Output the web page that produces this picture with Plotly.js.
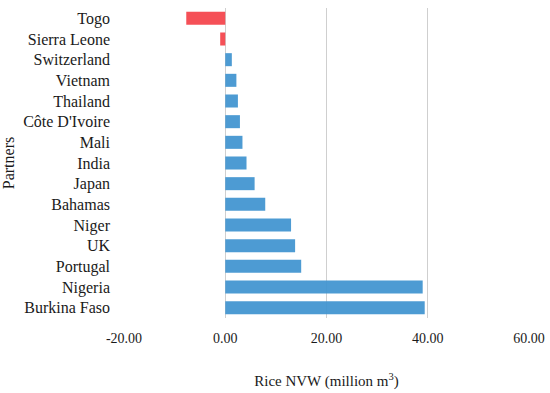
<!DOCTYPE html>
<html>
<head>
<meta charset="utf-8">
<script src="https://cdn.plot.ly/plotly-3.0.1.min.js"></script>
<style>html,body{margin:0;padding:0;background:#fff;}#chart{width:550px;height:393px;}</style>
</head>
<body>
<div id="chart"></div>
<script>
const partners = ["Togo","Sierra Leone","Switzerland","Vietnam","Thailand","Côte D'Ivoire","Mali","India","Japan","Bahamas","Niger","UK","Portugal","Nigeria","Burkina Faso"];
const nvw = [-7.7,-1.0,1.3,2.2,2.5,2.9,3.4,4.2,5.8,7.9,13.0,13.8,15.0,39.0,39.4];
const xTicks = [-20,0,20,40,60];
const xTickLabels = ["-20.00","0.00","20.00","40.00","60.00"];

const colors = nvw.map(v => v < 0 ? "#f4434a" : "#3f93d0");

const trace = {
  type: "bar",
  orientation: "h",
  x: nvw,
  y: partners,
  marker: {color: colors, opacity: 0.93},
  width: 0.63,
  hoverinfo: "none"
};

const fam = "Liberation Serif, DejaVu Serif, serif";
const txt = "#1a1a1a";

const layout = {
  width: 550, height: 393,
  margin: {l: 124, r: 21, t: 8, b: 75},
  paper_bgcolor: "#fff", plot_bgcolor: "#fff",
  font: {family: fam, size: 14, color: txt},
  showlegend: false,
  xaxis: {
    range: [-20, 60],
    tickvals: xTicks,
    ticktext: xTickLabels,
    showgrid: true,
    gridcolor: "#cfcfcf",
    gridwidth: 1.3,
    zeroline: true,
    zerolinecolor: "#cfcfcf",
    zerolinewidth: 1.3,
    showline: false,
    ticks: "",
    ticklabelstandoff: 10,
    tickfont: {family: fam, size: 14, color: txt},
    title: {text: "Rice NVW (million m<sup>3</sup>)", font: {family: fam, size: 15, color: txt}, standoff: 30}
  },
  yaxis: {
    autorange: "reversed",
    showgrid: false,
    zeroline: false,
    showline: false,
    ticks: "",
    ticklabelstandoff: 13,
    tickfont: {family: fam, size: 16, color: txt},
    title: {text: "Partners", font: {family: fam, size: 16, color: txt}, standoff: 8}
  }
};

Plotly.newPlot("chart", [trace], layout, {displayModeBar: false, staticPlot: true});
</script>
</body>
</html>
